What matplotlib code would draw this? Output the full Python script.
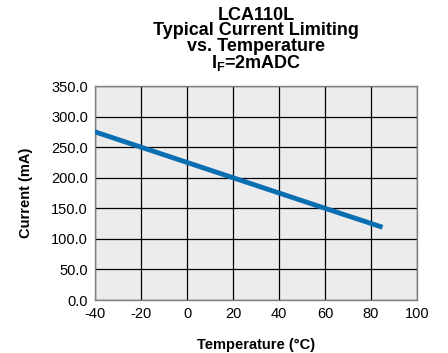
import matplotlib
matplotlib.use("Agg")
import matplotlib.pyplot as plt

# Typical current limiting vs. temperature
temps = [-40, -20, 0, 20, 40, 60, 85]
current_ma = [275.0, 250.0, 225.0, 200.0, 175.0, 150.0, 119.0]

x_ticks = [-40, -20, 0, 20, 40, 60, 80, 100]
y_ticks = [0, 50, 100, 150, 200, 250, 300, 350]

title_lines = ["LCA110L", "Typical Current Limiting", "vs. Temperature",
               r"I$_\mathbf{F}$=2mADC"]

plt.rcParams["font.family"] = ["Liberation Sans", "DejaVu Sans"]
plt.rcParams["mathtext.fontset"] = "custom"
plt.rcParams["mathtext.rm"] = "Liberation Sans"
plt.rcParams["mathtext.bf"] = "Liberation Sans:bold"

fig = plt.figure(figsize=(4.48, 3.53), dpi=100)
ax = fig.add_axes([95 / 448, 53 / 353, 322 / 448, 214 / 353])
ax.set_facecolor("#ececec")

ax.plot(temps, current_ma, color="#0a6fb0", linewidth=3.5, solid_capstyle="butt", zorder=3)

ax.set_xlim(-40, 100)
ax.set_ylim(0, 350)
ax.set_xticks(x_ticks)
ax.set_xticklabels([str(t) for t in x_ticks], fontsize=10.5)
ax.set_yticks(y_ticks)
ax.set_yticklabels([f"{v:.1f}" for v in y_ticks], fontsize=10.5)
ax.tick_params(length=0, pad=5)
ax.grid(True, color="black", linewidth=0.9, zorder=1)
for sp in ax.spines.values():
    sp.set_color("#808080")
    sp.set_linewidth(1.0)

ax.set_xlabel("Temperature (\u00b0C)", fontsize=10.5, fontweight="bold", labelpad=12)
ax.set_ylabel("Current (mA)", fontsize=10.5, fontweight="bold", labelpad=13)

fig.text(256 / 448, 1 - 40 / 353, "\n".join(title_lines), ha="center", va="center",
         fontsize=13, fontweight="bold", linespacing=0.9, multialignment="center")

fig.savefig("out.png", dpi=100)
